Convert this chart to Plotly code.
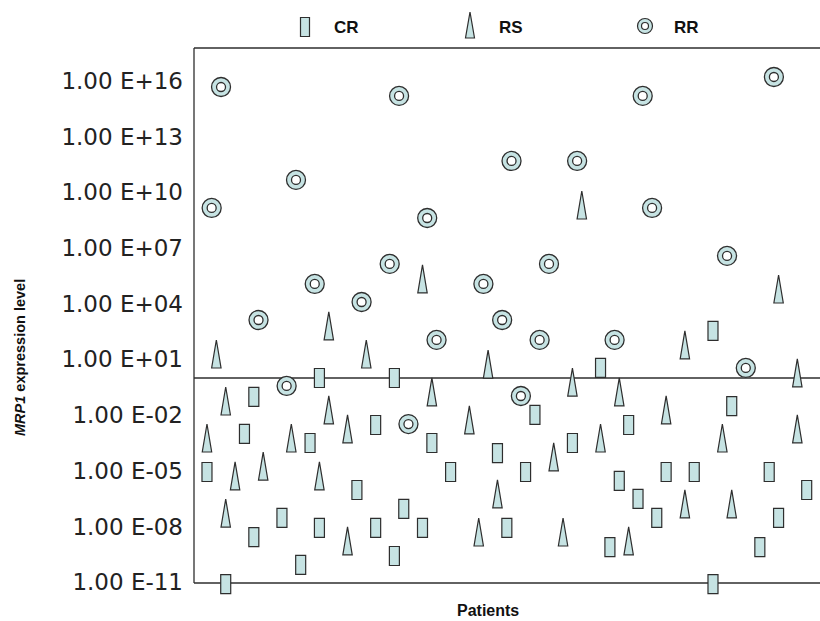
import plotly.graph_objects as go

# ---------------- data (patient position, log10 MRP1 expression) ----------------
cr_patient = [1, 5, 9, 11, 11, 17, 21, 23, 25, 25, 33, 37, 37, 41, 41, 43, 47, 49, 53, 63,
              65, 69, 71, 79, 85, 87, 89, 91, 93, 97, 99, 105, 109, 109, 113, 119, 121, 123, 129]
cr_log10 = [-5.06, -11.09, -3.01, -1.02, -8.56, -7.53, -10.06, -3.50, 0.0, -8.07,
            -6.03, -2.53, -8.07, 0.0, -9.58, -7.05, -8.07, -3.50, -5.06, -4.04,
            -8.07, -5.06, -1.99, -3.50, 0.54, -9.10, -5.54, -2.53, -6.51, -7.53,
            -5.06, -5.06, 2.53, -11.09, -1.51, -9.10, -5.06, -7.53, -6.03]

rs_patient = [3, 5, 1, 7, 5, 13, 19, 25, 27, 27, 31, 31, 35, 47, 49, 57, 59, 61, 63, 75,
              77, 79, 81, 85, 89, 91, 99, 103, 103, 111, 113, 123, 127, 127]
rs_log10 = [1.29, -1.24, -3.23, -5.27, -7.27, -4.74, -3.23, -5.27, 2.80, -1.72,
            -2.74, -8.77, 1.29, 5.33, -0.75, -2.26, -8.29, 0.75, -6.24, -4.25,
            -8.29, -0.22, 9.31, -3.23, -0.75, -8.77, -1.72, -6.78, 1.78, -3.23,
            -6.78, 4.79, 0.27, -2.74]

rr_patient = [4, 2, 12, 18, 20, 24, 34, 40, 42, 44, 48, 50, 60, 64, 66, 68, 72, 74, 80, 88,
              94, 96, 112, 116, 122]
rr_log10 = [15.66, 9.15, 3.12, -0.43, 10.66, 5.06, 4.09, 6.14, 15.18, -2.48,
            8.61, 2.05, 5.06, 3.12, 11.68, -0.97, 2.05, 6.14, 11.68, 2.05,
            15.18, 9.15, 6.57, 0.54, 16.20]

ytick_exp = [16, 13, 10, 7, 4, 1, -2, -5, -8, -11]
ytick_text = ["1.00 E+16", "1.00 E+13", "1.00 E+10", "1.00 E+07", "1.00 E+04",
              "1.00 E+01", "1.00 E-02", "1.00 E-05", "1.00 E-08", "1.00 E-11"]
baseline_log10 = 0
legend_names = ["CR", "RS", "RR"]

# ---------------- styling ----------------
W, H = 820, 621
ML, MR, MT, MB = 194, 0, 48, 16
PW, PH = W - ML - MR, H - MT - MB
FRAME_BOTTOM_PX = 583
FILL = "#c6e3e3"
EDGE = "#2e2e2e"
FONT = "Arial, 'Liberation Sans', sans-serif"
TICKFONT = "'DejaVu Sans', Verdana, sans-serif"
Y_TOP = 17.76
Y_BOTTOM = Y_TOP - PH / 18.58


def px_x(X):
    return (X - ML) / PW


def px_y(Y):
    return (H - MB - Y) / PH


fig = go.Figure()

# RR: double circles
fig.add_trace(go.Scatter(x=rr_patient, y=rr_log10, mode="markers", name="RR",
                         marker=dict(size=19, color=FILL, line=dict(color=EDGE, width=1.3)),
                         showlegend=False, hoverinfo="x+y", cliponaxis=False))
fig.add_trace(go.Scatter(x=rr_patient, y=rr_log10, mode="markers", name="RR",
                         marker=dict(size=9, color="white", line=dict(color=EDGE, width=1.3)),
                         showlegend=False, hoverinfo="skip", cliponaxis=False))

shapes = []
# frame: top, left, bottom
fb = px_y(FRAME_BOTTOM_PX)
shapes.append(dict(type="line", xref="paper", yref="paper", x0=0, x1=1, y0=1, y1=1,
                   line=dict(color=EDGE, width=1.3), layer="below"))
shapes.append(dict(type="line", xref="paper", yref="paper", x0=0, x1=0, y0=fb, y1=1,
                   line=dict(color=EDGE, width=1.3), layer="below"))
shapes.append(dict(type="line", xref="paper", yref="paper", x0=0, x1=1, y0=fb, y1=fb,
                   line=dict(color=EDGE, width=1.3), layer="below"))
# baseline
shapes.append(dict(type="line", xref="paper", yref="y", x0=0, x1=1,
                   y0=baseline_log10, y1=baseline_log10, line=dict(color=EDGE, width=1.3),
                   layer="below"))

# CR: tall rectangles anchored on data
for p, v in zip(cr_patient, cr_log10):
    shapes.append(dict(type="rect", xref="x", yref="y", xsizemode="pixel", ysizemode="pixel",
                       xanchor=p, yanchor=v, x0=-5, x1=5, y0=-9.5, y1=9.5,
                       fillcolor=FILL, line=dict(color=EDGE, width=1.2)))
# RS: narrow tall triangles anchored on data
for p, v in zip(rs_patient, rs_log10):
    shapes.append(dict(type="path", xref="x", yref="y", xsizemode="pixel", ysizemode="pixel",
                       xanchor=p, yanchor=v, path="M -4.7,-14 L 4.7,-14 L 0,14 Z",
                       fillcolor=FILL, line=dict(color=EDGE, width=1.2)))

# manual legend
ly = px_y(27)
shapes.append(dict(type="rect", xref="paper", yref="paper", xsizemode="pixel", ysizemode="pixel",
                   xanchor=px_x(305), yanchor=ly, x0=-4.5, x1=4.5, y0=-9.5, y1=9.5,
                   fillcolor=FILL, line=dict(color=EDGE, width=1.2)))
shapes.append(dict(type="path", xref="paper", yref="paper", xsizemode="pixel", ysizemode="pixel",
                   xanchor=px_x(470), yanchor=px_y(25), path="M -4.5,-13 L 4.5,-13 L 0,13 Z",
                   fillcolor=FILL, line=dict(color=EDGE, width=1.2)))
shapes.append(dict(type="circle", xref="paper", yref="paper", xsizemode="pixel", ysizemode="pixel",
                   xanchor=px_x(645), yanchor=px_y(26), x0=-7.5, x1=7.5, y0=-7.5, y1=7.5,
                   fillcolor=FILL, line=dict(color=EDGE, width=1.2)))
shapes.append(dict(type="circle", xref="paper", yref="paper", xsizemode="pixel", ysizemode="pixel",
                   xanchor=px_x(645), yanchor=px_y(26), x0=-3.5, x1=3.5, y0=-3.5, y1=3.5,
                   fillcolor="white", line=dict(color=EDGE, width=1.2)))

annotations = []
for name, X in zip(legend_names, [332, 497, 672]):
    annotations.append(dict(text=f"<b>{name}</b>", xref="paper", yref="paper",
                            x=px_x(X), y=ly, xanchor="left", yanchor="middle",
                            showarrow=False, font=dict(family=FONT, size=17, color="#111")))
annotations.append(dict(text="<b><i>MRP1</i> expression level</b>", xref="paper", yref="paper",
                        x=px_x(20), y=px_y(358), textangle=-90, xanchor="center",
                        yanchor="middle", showarrow=False,
                        font=dict(family=FONT, size=14.5, color="#111")))
annotations.append(dict(text="<b>Patients</b>", xref="paper", yref="paper",
                        x=px_x(488), y=px_y(610), xanchor="center", yanchor="middle",
                        showarrow=False, font=dict(family=FONT, size=16, color="#111")))

fig.update_layout(
    width=W, height=H,
    margin=dict(l=ML, r=MR, t=MT, b=MB, pad=0),
    paper_bgcolor="white", plot_bgcolor="white",
    shapes=shapes, annotations=annotations,
    showlegend=False,
    xaxis=dict(range=[-1.77, 131.84], showline=False, showticklabels=False, ticks="",
               showgrid=False, zeroline=False),
    yaxis=dict(range=[Y_BOTTOM, Y_TOP], tickvals=ytick_exp, ticktext=ytick_text,
               showline=False, ticks="", showgrid=False,
               zeroline=False, ticklabelstandoff=10,
               tickfont=dict(family=TICKFONT, size=23, color="#222")),
)

fig.write_html("out.html", config={"displayModeBar": False},
               post_script="document.body.style.margin='0px';document.body.style.overflow='hidden';")
